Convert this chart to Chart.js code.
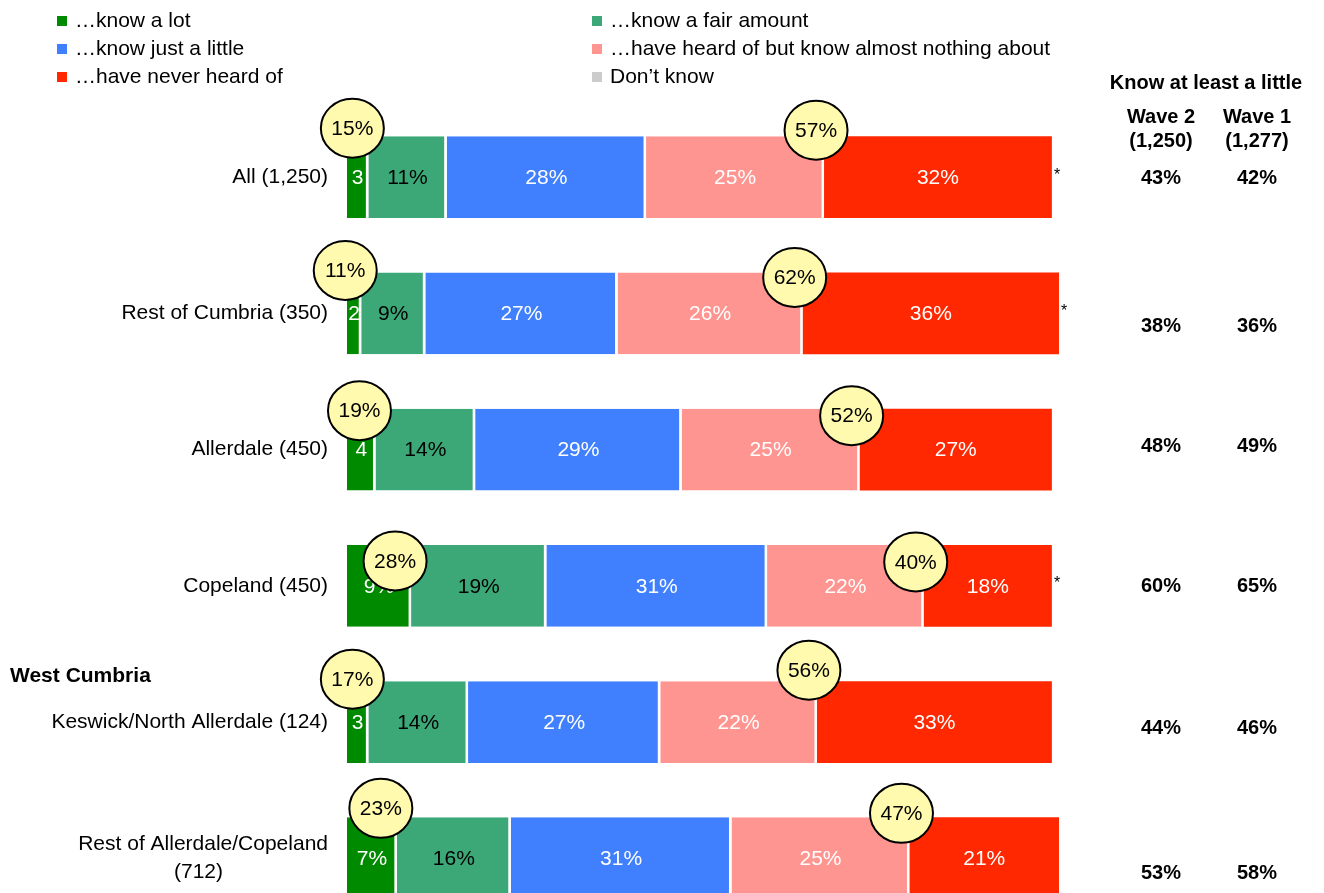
<!DOCTYPE html>
<html>
<head>
<meta charset="utf-8">
<script src="https://cdn.jsdelivr.net/npm/chart.js@4/dist/chart.umd.min.js"></script>
<style>
  html, body { margin: 0; padding: 0; background: #fff; overflow: hidden; }
  #wrap { width: 1324px; height: 893px; overflow: hidden; position: relative; }
  canvas { display: block; }
</style>
</head>
<body>
<div id="wrap"><canvas id="c" width="1324" height="959"></canvas></div>
<script>
// ---- data ----
const NB = '\u00A0';
const categories = ['All (1,250)', 'Rest of Cumbria (350)', 'Allerdale (450)', 'Copeland (450)',
  'Keswick/North Allerdale (124)', ['Rest of Allerdale/Copeland', '(712)' + NB.repeat(18)]];
const seriesNames = ['\u2026know a lot', '\u2026know a fair amount', '\u2026know just a little',
  '\u2026have heard of but know almost nothing about', '\u2026have never heard of', 'Don\u2019t know'];
const knowALot        = [3, 2, 4, 9, 3, 7];
const knowFairAmount  = [11, 9, 14, 19, 14, 16];
const knowJustALittle = [28, 27, 29, 31, 27, 31];
const heardButNothing = [25, 26, 25, 22, 22, 25];
const neverHeard      = [32, 36, 27, 18, 33, 21];
const dontKnow        = [0, 0, 0, 0, 0, 0];
const dontKnowLabels  = ['*', '*', '', '*', '', ''];
const knowFairOrMore  = [15, 11, 19, 28, 17, 23];
const knowLittleOrLess = [57, 62, 52, 40, 56, 47];
const wave2Totals = [43, 38, 48, 60, 44, 53];
const wave1Totals = [42, 36, 49, 65, 46, 58];
const tableTitle = 'Know at least a little';
const wave2Head = ['Wave 2', '(1,250)'];
const wave1Head = ['Wave 1', '(1,277)'];
const groupLabel = 'West Cumbria';

// ---- styles ----
const FONT = '"Liberation Sans", Arial, Helvetica, sans-serif';
const colors = ['#008A00', '#3CA878', '#4080FF', '#FF9591', '#FF2800', '#CCCCCC'];
const labelColors = ['#fff', '#000', '#fff', '#fff', '#fff', '#000'];
const seriesData = [knowALot, knowFairAmount, knowJustALittle, heardButNothing, neverHeard, dontKnow];

const datasets = seriesData.map((d, i) => ({
  label: seriesNames[i],
  data: d,
  backgroundColor: colors[i],
  borderColor: '#fff',
  borderWidth: i === 4 || i === 5 ? 0 : { left: 0, right: 2.5, top: 0, bottom: 0 },
  borderSkipped: false,
  barPercentage: 0.6,
  categoryPercentage: 1.0
}));

const overlay = {
  id: 'overlay',
  afterDatasetsDraw(chart) {
    const ctx = chart.ctx;
    const xs = chart.scales.x, ys = chart.scales.y;
    ctx.save();
    // segment labels
    ctx.font = '21px ' + FONT;
    ctx.textAlign = 'center';
    ctx.textBaseline = 'middle';
    for (let di = 0; di < 5; di++) {
      const meta = chart.getDatasetMeta(di);
      meta.data.forEach((bar, i) => {
        const v = seriesData[di][i];
        if (!v) return;
        const txt = v < 5 ? String(v) : v + '%';
        ctx.fillStyle = labelColors[di];
        ctx.fillText(txt, (bar.x + bar.base) / 2, bar.y + 1);
      });
    }
    // don't know asterisks
    const dkMeta = chart.getDatasetMeta(5);
    ctx.font = '16px ' + FONT;
    ctx.textAlign = 'left';
    ctx.fillStyle = '#000';
    dkMeta.data.forEach((bar, i) => {
      if (dontKnowLabels[i]) ctx.fillText(dontKnowLabels[i], bar.x + 2, bar.y - 2);
    });
    // circles
    const dy1 = [-8, -2, 2, 16, -2, -9];
    const dy2 = [-6, 5, 7, 17, -11, -4];
    const drawCircle = (cx, cy, txt) => {
      ctx.beginPath();
      ctx.ellipse(cx, cy, 31.5, 29.5, 0, 0, Math.PI * 2);
      ctx.fillStyle = '#FFFAAE';
      ctx.fill();
      ctx.lineWidth = 2;
      ctx.strokeStyle = '#000';
      ctx.stroke();
      ctx.fillStyle = '#000';
      ctx.font = '21px ' + FONT;
      ctx.textAlign = 'center';
      ctx.textBaseline = 'middle';
      ctx.fillText(txt, cx, cy + 1);
    };
    chart.getDatasetMeta(0).data.forEach((bar, i) => {
      const top = bar.y - bar.height / 2;
      const c1 = knowALot[i];
      const c4 = knowALot[i] + knowFairAmount[i] + knowJustALittle[i] + heardButNothing[i];
      drawCircle(xs.getPixelForValue(c1) - 16, top + dy1[i], knowFairOrMore[i] + '%');
      drawCircle(xs.getPixelForValue(c4) - 8, top + dy2[i], knowLittleOrLess[i] + '%');
    });
    // legend
    ctx.font = '21px ' + FONT;
    ctx.textAlign = 'left';
    ctx.textBaseline = 'middle';
    const colX = [57, 592], rowY = [21, 49, 77];
    seriesNames.forEach((n, i) => {
      const cx = colX[i % 2], cy = rowY[Math.floor(i / 2)];
      ctx.fillStyle = colors[i];
      ctx.fillRect(cx, cy - 5, 10, 10);
      ctx.fillStyle = '#000';
      ctx.fillText(n, cx + 18, cy);
    });
    // right table
    ctx.font = 'bold 20px ' + FONT;
    ctx.textAlign = 'center';
    ctx.fillStyle = '#000';
    ctx.fillText(tableTitle, 1206, 83);
    ctx.fillText(wave2Head[0], 1161, 117);
    ctx.fillText(wave2Head[1], 1161, 141);
    ctx.fillText(wave1Head[0], 1257, 117);
    ctx.fillText(wave1Head[1], 1257, 141);
    const vdy = [1, 13, -3, 1, 6, 15];
    categories.forEach((c, i) => {
      const y = ys.getPixelForValue(i) + vdy[i];
      ctx.fillText(wave2Totals[i] + '%', 1161, y);
      ctx.fillText(wave1Totals[i] + '%', 1257, y);
    });
    // group label
    ctx.textAlign = 'left';
    ctx.font = 'bold 21px ' + FONT;
    ctx.fillText(groupLabel, 10, (ys.getPixelForValue(3) + ys.getPixelForValue(4)) / 2 + 22);
    ctx.restore();
  }
};

new Chart(document.getElementById('c'), {
  type: 'bar',
  data: { labels: categories, datasets },
  options: {
    indexAxis: 'y',
    responsive: false,
    devicePixelRatio: 1,
    animation: false,
    layout: { padding: { top: 109, bottom: 0, left: 0, right: 265 } },
    scales: {
      x: { stacked: true, min: 0, max: 100, display: false },
      y: {
        stacked: true,
        grid: { display: false, drawTicks: false },
        border: { display: false },
        ticks: { color: '#000', padding: 19, font: { size: 21, family: FONT, lineHeight: 1.3 } },
        afterFit(s) { s.width = 347; }
      }
    },
    plugins: { legend: { display: false }, tooltip: { enabled: false } }
  },
  plugins: [overlay]
});
</script>
</body>
</html>
